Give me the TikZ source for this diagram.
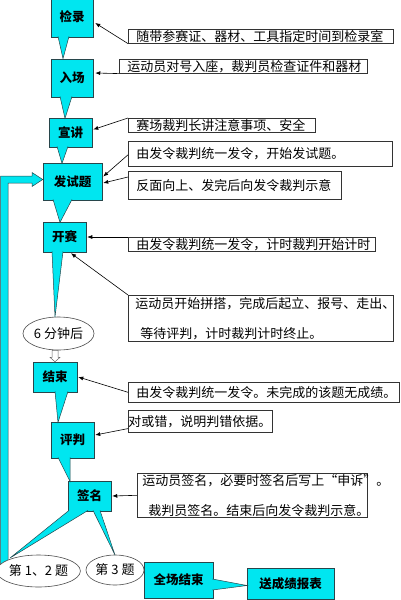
\documentclass[tikz,border=0pt]{standalone}
\usepackage{fontspec}
\setmainfont{Noto Sans CJK SC}
\usepackage{tikz}
\usetikzlibrary{arrows.meta,calc,positioning,shapes.geometric}
\definecolor{stagecyan}{RGB}{0,230,240}
\definecolor{stageedge}{RGB}{40,70,75}
\newcommand{\stagetail}[3]{%
    \fill[stagecyan] (#1) -- (#3) -- (#2) -- cycle;
    \draw[stageedge, line width=0.5pt] (#1) -- (#3) -- (#2);
}
\newcommand{\notebox}[7]{%
    \node[notebox, minimum width=#3, minimum height=#4, inner xsep=#5, text width=#6] (#1) at (#2) {#7};
}

\begin{document}
\begin{tikzpicture}[
            x=1pt, y=-1pt,
            stagebox/.style = {draw=stageedge,
                fill=stagecyan,
                line width=0.5pt,
                inner sep=0pt,
                font=\bfseries\fontsize{12.5}{14}\selectfont,
            },
            notebox/.style = {draw=black!80,
                fill=white,
                line width=0.6pt,
                anchor=north west,
                inner ysep=0pt,
                align=left,
                font=\fontsize{13}{30}\selectfont,
            },
            roundbox/.style = {ellipse,
                draw=black!70,
                fill=white,
                line width=0.6pt,
                inner sep=0pt,
                font=\fontsize{13}{14}\selectfont,
            },
            notearrow/.style = {draw=black,
                line width=0.6pt,
                -{Latex[length=5pt,width=4pt]},
            },
        ]
            \useasboundingbox (0,0) rectangle (401,600);
            % stages
            \node[stagebox, minimum width=42pt, minimum height=40pt] (jl) at (72,17) {检录};
            \node[stagebox, minimum width=42pt, minimum height=38pt] (rc) at (72,78) {入场};
            \node[stagebox, minimum width=43pt, minimum height=29pt] (xj) at (70.5,132.5) {\raisebox{-3pt}{宣讲}};
            \node[stagebox, minimum width=59pt, minimum height=37pt] (fst) at (72.5,181.5) {发试题};
            \node[stagebox, minimum width=43pt, minimum height=30pt] (ks) at (64.5,237) {开赛};
            \node[stagebox, minimum width=44pt, minimum height=30pt] (js) at (55,377) {结束};
            \node[stagebox, minimum width=43pt, minimum height=36pt] (pp) at (72.5,440) {评判};
            \node[stagebox, minimum width=43pt, minimum height=30pt] (qm) at (89.5,496) {签名};
            \node[stagebox, minimum width=69pt, minimum height=36pt] (qcjs) at (178.5,580) {全场结束};
            \node[stagebox, minimum width=87pt, minimum height=31pt] (scj) at (290.5,583.5) {送成绩报表};
            % loop back to the test paper stage
            \filldraw[fill=stagecyan, draw=stageedge, line width=0.5pt]
                (0.5,569) |- (32,176) -- (32,172.5) -- ([yshift=2pt]fst.west) -- (32,186.5) -- (32,183) -| (8,569) -- cycle;
            % ellipses
            \node[roundbox, minimum width=71pt, minimum height=33pt] (e6) at (58.5,333.5) {6 分钟后};
            \node[roundbox, minimum width=77pt, minimum height=32pt] (e12) at (38.5,571) {第 1、2 题};
            \node[roundbox, minimum width=58pt, minimum height=30pt] (e3) at (115,570) {第 3 题};
            % callout tails
            \stagetail{58,36.4}{69,36.4}{63,58.6}
            \stagetail{60,96.4}{72,96.4}{65,118.4}
            \stagetail{57,146.4}{68,146.4}{62,163.4}
            \stagetail{53,199.4}{72,199.4}{60,222.4}
            \stagetail{52,251.4}{63,251.4}{55,317}
            \stagetail{55,391.4}{68,391.4}{58,422.4}
            \stagetail{58,457.4}{70,457.4}{70,481.4}
            \stagetail{69,510.4}{88,510.4}{10,558}
            \stagetail{93,510.4}{100,510.4}{115,555}
            \stagetail{212.4,579}{212.4,590}{247,585.5}
            % hollow arrow after 6 minutes
            \coordinate (hb) at (e6.south -| js.north);
            \draw[fill=white, draw=black!60, line width=0.5pt] ($(hb)+(-3,0)$) -- ($(hb)+(-3,7)$) -- ($(hb)+(-5,7)$) -- (js.north)
                -- ($(hb)+(5,7)$) -- ($(hb)+(3,7)$) -- ($(hb)+(3,0)$) -- cycle;
            % notes
            \notebox{n1}{128,29}{265pt}{14pt}{8pt}{249pt}{随带参赛证、器材、工具指定时间到检录室}
            \notebox{n2}{119,59}{248pt}{14pt}{8pt}{232pt}{运动员对号入座，裁判员检查证件和器材}
            \notebox{n3}{128,118}{187pt}{14pt}{8pt}{171pt}{赛场裁判长讲注意事项、安全}
            \notebox{n4}{128,141}{264pt}{25pt}{8pt}{248pt}{由发令裁判统一发令，开始发试题。}
            \notebox{n5}{128,171}{213pt}{28pt}{8pt}{197pt}{反面向上、发完后向发令裁判示意}
            \notebox{n6}{128,237}{247pt}{14pt}{8pt}{231pt}{由发令裁判统一发令，计时裁判开始计时}
            \notebox{n7}{128,295}{265pt}{46pt}{7pt}{251pt}{运动员开始拼搭，完成后起立、报号、走出、\\\hspace*{5pt}等待评判，计时裁判计时终止。}
            \notebox{n8}{128,382}{271pt}{20pt}{8pt}{255pt}{由发令裁判统一发令。未完成的该题无成绩。}
            \notebox{n9}{128,410}{144pt}{22pt}{0pt}{144pt}{对或错，说明判错依据。}
            \notebox{n10}{137,473}{230pt}{44pt}{5pt}{220pt}{运动员签名，必要时签名后写上“申诉”。\\\hspace*{6pt}裁判员签名。结束后向发令裁判示意。}
            % note arrows
            \draw[notearrow] (n1.south west) -- ([shift={(2,6)}]jl.east);
            \draw[notearrow] (n2.south west) -- ([shift={(2,-5)}]rc.east);
            \draw[notearrow] (n3.north west) -- ([shift={(1,-3)}]xj.east);
            \draw[notearrow] ($(n4.west)+(0,1)$) -- ([shift={(1,-5)}]fst.east);
            \draw[notearrow] ($(n5.north west)+(0,6)$) -- ([shift={(1,1.5)}]fst.east);
            \draw[notearrow] (n6.north west) -- ([xshift=1pt]ks.east);
            \draw[notearrow] (n7.north west) -- ([shift={(6.5,1)}]ks.south);
            \draw[notearrow] (n8.west) -- ([xshift=1pt]js.east);
            \draw[notearrow] ($(n9.south west)+(0,-4)$) -- ([shift={(1,-5)}]pp.east);
            \draw[notearrow] (n10.west) -- ([xshift=1pt]qm.east);
        \end{tikzpicture}
\end{document}
